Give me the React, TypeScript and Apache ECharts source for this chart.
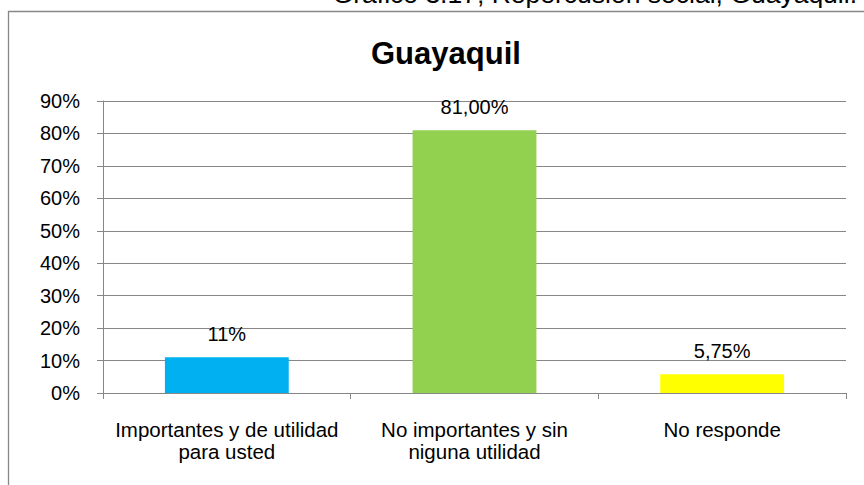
import React, { useEffect, useRef } from "react";
import * as echarts from "echarts";

const categories = ["Importantes y de utilidad\npara usted", "No importantes y sin\niguna utilidad"];
const categoryLabels = [
  "Importantes y de utilidad\npara usted",
  "No importantes y sin\nniguna utilidad",
  "No responde",
];
const values = [11, 81, 5.75];
const valueLabels = ["11%", "81,00%", "5,75%"];
const barColors = ["#00B0F0", "#92D050", "#FFFF00"];
const yTicks = [0, 10, 20, 30, 40, 50, 60, 70, 80, 90];
const titleText = "Guayaquil";
const captionText = "Gráfico 3.17; Repercusión social, Guayaquil.";

const FONT = "'Liberation Sans', Arial, Helvetica, sans-serif";
const GRAY = "#878787";

export default function App() {
  const ref = useRef<HTMLDivElement>(null);
  useEffect(() => {
    if (!ref.current) return;
    void categories;
    const chart = echarts.init(ref.current, undefined, { renderer: "svg" });
    chart.setOption({
      animation: false,
      backgroundColor: "#ffffff",
      textStyle: { fontFamily: FONT },
      title: {
        text: titleText,
        left: 366,
        top: 33,
        textStyle: { fontFamily: FONT, fontSize: 31, fontWeight: "bold", color: "#000" },
      },
      graphic: [
        {
          type: "rect",
          shape: { x: 8.5, y: 11.5, width: 900, height: 500 },
          style: { fill: "none", stroke: GRAY, lineWidth: 1.3 },
          silent: true,
          z: -1,
        },
        {
          type: "text",
          x: 857,
          y: 7,
          style: {
            text: captionText,
            fontFamily: FONT,
            fontSize: 26.5,
            fill: "#000",
            textAlign: "right",
            textVerticalAlign: "bottom",
          },
        },
      ],
      grid: { left: 103, right: 18, top: 101, bottom: 92, containLabel: false },
      xAxis: {
        type: "category",
        data: categoryLabels,
        axisLine: { show: true, lineStyle: { color: GRAY, width: 1 } },
        axisTick: { show: true, length: 6, alignWithLabel: false, lineStyle: { color: GRAY } },
        axisLabel: {
          interval: 0,
          margin: 25,
          color: "#000",
          fontFamily: FONT,
          fontSize: 20.5,
          lineHeight: 22,
          align: "center",
        },
      },
      yAxis: {
        type: "value",
        min: 0,
        max: 90,
        interval: 10,
        axisLine: { show: true, lineStyle: { color: GRAY, width: 1 } },
        axisTick: { show: true, length: 6, lineStyle: { color: GRAY } },
        splitLine: { show: true, lineStyle: { color: GRAY, width: 1 } },
        axisLabel: {
          margin: 23,
          color: "#000",
          fontFamily: FONT,
          fontSize: 20,
          formatter: (v: number) => (yTicks.includes(v) ? `${v}%` : ""),
        },
      },
      series: [
        {
          type: "bar",
          barWidth: "50%",
          data: values.map((v, i) => ({ value: v, itemStyle: { color: barColors[i] } })),
          label: {
            show: true,
            position: "top",
            distance: 13,
            color: "#000",
            fontFamily: FONT,
            fontSize: 20,
            formatter: (p: any) => valueLabels[p.dataIndex],
          },
        },
      ],
    });
    return () => chart.dispose();
  }, []);
  return (
    <div
      ref={ref}
      style={{ position: "fixed", left: 0, top: 0, width: 864, height: 485 }}
    />
  );
}
